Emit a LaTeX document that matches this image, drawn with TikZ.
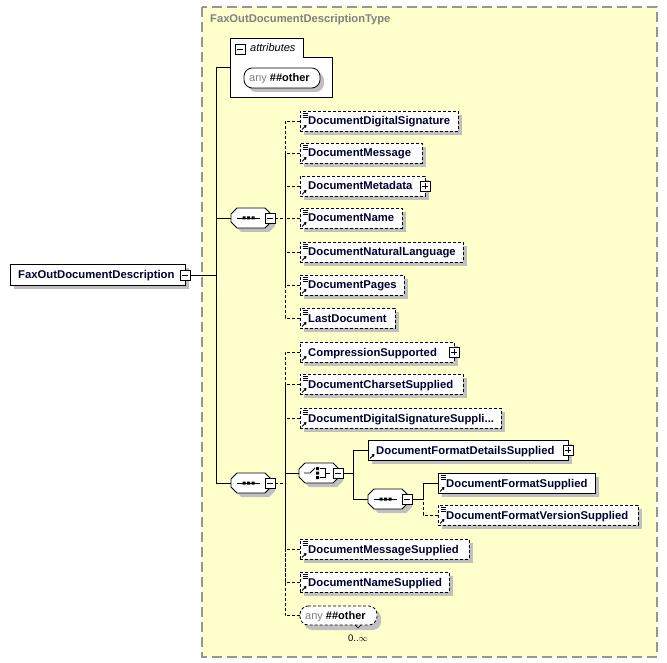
\documentclass[tikz,border=0pt]{standalone}
\usepackage{fontspec}
\setmainfont{Liberation Sans}
\usetikzlibrary{arrows.meta}
\definecolor{bgy}{RGB}{255,255,204}
\definecolor{bordg}{RGB}{150,150,150}
\definecolor{shd}{RGB}{192,192,192}
\definecolor{txt}{RGB}{0,0,48}
\definecolor{ttl}{RGB}{128,128,128}
\tikzset{
  ln/.style={line width=0.8pt},
  dsh/.style={dash pattern=on 3pt off 2pt},
  elbox/.style={draw, fill=white, minimum height=20pt, inner sep=0pt, anchor=west, line width=0.8pt},
  eltext/.style={anchor=base west, inner sep=0pt, font=\fontsize{11.3}{13}\selectfont\bfseries, text=txt},
  pmbox/.style={draw, fill=white, minimum size=10pt, inner sep=0pt, line width=0.8pt},
  compnode/.style={inner sep=0pt, minimum width=39pt, minimum height=20pt},
}
\newcommand\MinusBox[2]{\node[pmbox] (#1) at (#2) {}; \draw[line width=0.9pt] (#1.center) +(-3,0) -- +(3,0);}
\newcommand\PlusBox[2]{\node[pmbox] (#1) at (#2) {}; \draw[line width=0.9pt] (#1.center) +(-3,0) -- +(3,0) (#1.center) +(0,-3) -- +(0,3);}
% #1 name, #2 left x, #3 centre y, #4 width, #5 text, #6 style, #7 doc icon
\newcommand\El[7]{%
  \fill[shd] (#2+4,#3-6) rectangle (#2+#4+4,#3+14);
  \node[elbox,#6,minimum width=#4pt] (#1) at (#2,#3) {};
  \node[eltext] at (#2+8,#3+4) {#5};
  \ifnum#7=1 \draw[line width=0.6pt] (#2+2.5,#3-8) -- ++(5,0) ++(-5,2) -- ++(5,0) ++(-5,2) -- ++(5,0);\fi
  \draw[-{Triangle[length=2.5pt,width=3.2pt]},line width=0.9pt] (#2+2,#3+8.5) -- ++(4.5,-4.5);
}
% compositor: #1 name, #2 left x, #3 centre y
\newcommand\CompShape[3]{%
  \fill[shd] (#2+10,#3-6) -- (#2+38,#3-6) -- (#2+44,#3) -- (#2+44,#3+8) -- (#2+38,#3+14) -- (#2+10,#3+14) -- (#2+4,#3+8) -- (#2+4,#3) -- cycle;
  \draw[ln,fill=white] (#2+6,#3-10) -- (#2+34,#3-10) -- (#2+40,#3-4) -- (#2+40,#3+4) -- (#2+34,#3+10) -- (#2+6,#3+10) -- (#2,#3+4) -- (#2,#3-4) -- cycle;
  \node[compnode] (#1) at (#2+19.5,#3) {};
  \MinusBox{#1m}{#2+39,#3}
}
\newcommand\SeqSym[2]{%
  \draw[line width=0.9pt] (#1+6,#2) -- (#1+29,#2);
  \fill (#1+11.5,#2-1.5) rectangle ++(3,3) (#1+16,#2-1.5) rectangle ++(3,3) (#1+20.5,#2-1.5) rectangle ++(3,3);
}
\newcommand\ChoiceSym[2]{%
  \draw[line width=0.9pt] (#1+5,#2) -- (#1+11,#2) -- (#1+16,#2-5);
  \fill (#1+17,#2-6) rectangle ++(3,3) (#1+17,#2-1.5) rectangle ++(3,3) (#1+17,#2+3) rectangle ++(3,3);
  \draw[line width=0.9pt] (#1+21,#2-4.5) -- (#1+26,#2-4.5) -- (#1+26,#2+4.5) -- (#1+21,#2+4.5) (#1+26,#2) -- (#1+31,#2);
}
\begin{document}
\begin{tikzpicture}[x=1pt,y=-1pt]
\useasboundingbox (0,0) rectangle (667,663);
% type box
\draw[bordg, fill=bgy, line width=1.3pt, dash pattern=on 10pt off 5pt] (202,7) rectangle (657,657);
\node[anchor=base west, inner sep=0pt, text=ttl, font=\fontsize{11.2}{13}\selectfont\bfseries] (title) at (210,23) {FaxOutDocumentDescriptionType};

% main element
\fill[shd] (14,268) rectangle (189,289);
\node[draw, fill=white, line width=0.8pt, inner sep=0pt, minimum width=175pt, minimum height=21pt, anchor=west] (main) at (10,275) {};
\node[eltext] at (18,279) {FaxOutDocumentDescription};
\MinusBox{mm}{185,275}
\coordinate (j0) at (216,275);

% attributes box
\draw[ln, fill=white] (230,38) -- (303,38) -- (303,57) -- (332,57) -- (332,97) -- (230,97) -- cycle;
\node[inner sep=0pt, minimum width=102pt, minimum height=59pt, anchor=north west] (attr) at (230,38) {};
\MinusBox{am}{240,49}
\node[anchor=base west, inner sep=0pt, font=\fontsize{11}{12}\selectfont\itshape] (attrt) at (250,52) {attributes};
\fill[shd, rounded corners=3pt] (248,72) -- (319,72) -- (324,77) -- (324,87) -- (319,92) -- (253,92) -- (248,87) -- cycle;
\draw[ln, fill=white, rounded corners=3pt] (249,68) -- (315,68) -- (320,73) -- (320,83) -- (315,88) -- (249,88) -- (244,83) -- (244,73) -- cycle;
\node[inner sep=0pt, minimum width=76pt, minimum height=20pt] (aany) at (282,78) {};
\node[anchor=base west, inner sep=0pt, font=\fontsize{11}{12}\selectfont] at (249,82) {\textcolor{ttl}{any} \textbf{\#\#other}};

% sequence 1
\CompShape{sa}{231}{218}
\SeqSym{231}{218}
\coordinate (s1j) at (285,218);
\El{e1}{300}{121}{158}{DocumentDigitalSignature}{dsh}{1}
\El{e2}{300}{153}{122}{DocumentMessage}{dsh}{1}
\El{e3}{300}{186}{125}{DocumentMetadata}{dsh}{0}
\PlusBox{e3p}{425,186}
\El{e4}{300}{218}{102}{DocumentName}{dsh}{1}
\El{e5}{300}{252}{163}{DocumentNaturalLanguage}{dsh}{1}
\El{e6}{300}{285}{104}{DocumentPages}{dsh}{1}
\El{e7}{300}{318}{95}{LastDocument}{dsh}{1}

% sequence 2
\CompShape{sb}{231}{483}
\SeqSym{231}{483}
\coordinate (s2j) at (285,483);
\El{f1}{300}{352}{154}{CompressionSupported}{dsh}{0}
\PlusBox{f1p}{454,352}
\El{f2}{300}{384}{163}{DocumentCharsetSupplied}{dsh}{1}
\El{f3}{300}{418}{201}{DocumentDigitalSignatureSuppli...}{dsh}{1}
\El{f5}{300}{549}{169}{DocumentMessageSupplied}{dsh}{1}
\El{f6}{300}{582}{149}{DocumentNameSupplied}{dsh}{1}
% bottom any
\fill[shd, rounded corners=3pt] (309,610) -- (376,610) -- (381,615) -- (381,625) -- (376,630) -- (309,630) -- (304,625) -- (304,615) -- cycle;
\draw[ln, dsh, fill=white, rounded corners=3pt] (305,606) -- (372,606) -- (377,611) -- (377,620) -- (372,625) -- (305,625) -- (300,620) -- (300,611) -- cycle;
\node[inner sep=0pt, minimum width=77pt, minimum height=19pt, anchor=west] (bany) at (300,615.5) {};
\node[anchor=base west, inner sep=0pt, font=\fontsize{11}{12}\selectfont] at (305,619) {\textcolor{ttl}{any} \textbf{\#\#other}};
\draw[line width=0.6pt] (355,625) -- (358,628) -- (361,625);
\node[inner sep=0pt, font=\fontsize{9.5}{11}\selectfont] (occ) at (358,638) {0..$\infty$};

% choice
\CompShape{ch}{299}{473}
\ChoiceSym{299}{473}
\coordinate (chj) at (353,473);
\El{g1}{368}{450}{200}{DocumentFormatDetailsSupplied}{solid}{0}
\PlusBox{g1p}{568,450}
\CompShape{sc}{368}{499}
\SeqSym{368}{499}
\coordinate (s3j) at (423,499);
\El{h1}{438}{483}{157}{DocumentFormatSupplied}{solid}{1}
\El{h2}{438}{515}{200}{DocumentFormatVersionSupplied}{dsh}{1}

% connectors
\begin{scope}[ln]
\draw (mm.east) -- (j0);
\draw (attr.west) -| (j0);
\draw (sa.west) -| (j0);
\draw (sb.west) -| (j0);
\draw[dsh] (sam.east) -- (s1j);
\foreach \n in {e1,e2,e3,e4,e5,e6,e7} \draw[dsh] (\n.west) -| (s1j);
\draw[dsh] (sbm.east) -- (s2j);
\foreach \n in {f1,f2,f3,f5,f6,bany} \draw[dsh] (\n.west) -| (s2j);
\draw (ch.west) -- (ch.west -| s2j);
\draw (chm.east) -- (chj);
\draw (g1.west) -| (chj);
\draw (sc.west) -| (chj);
\draw (scm.east) -- (s3j);
\draw (h1.west) -| (s3j);
\draw[dsh] (h2.west) -| (s3j);
\end{scope}
\end{tikzpicture}
\end{document}
